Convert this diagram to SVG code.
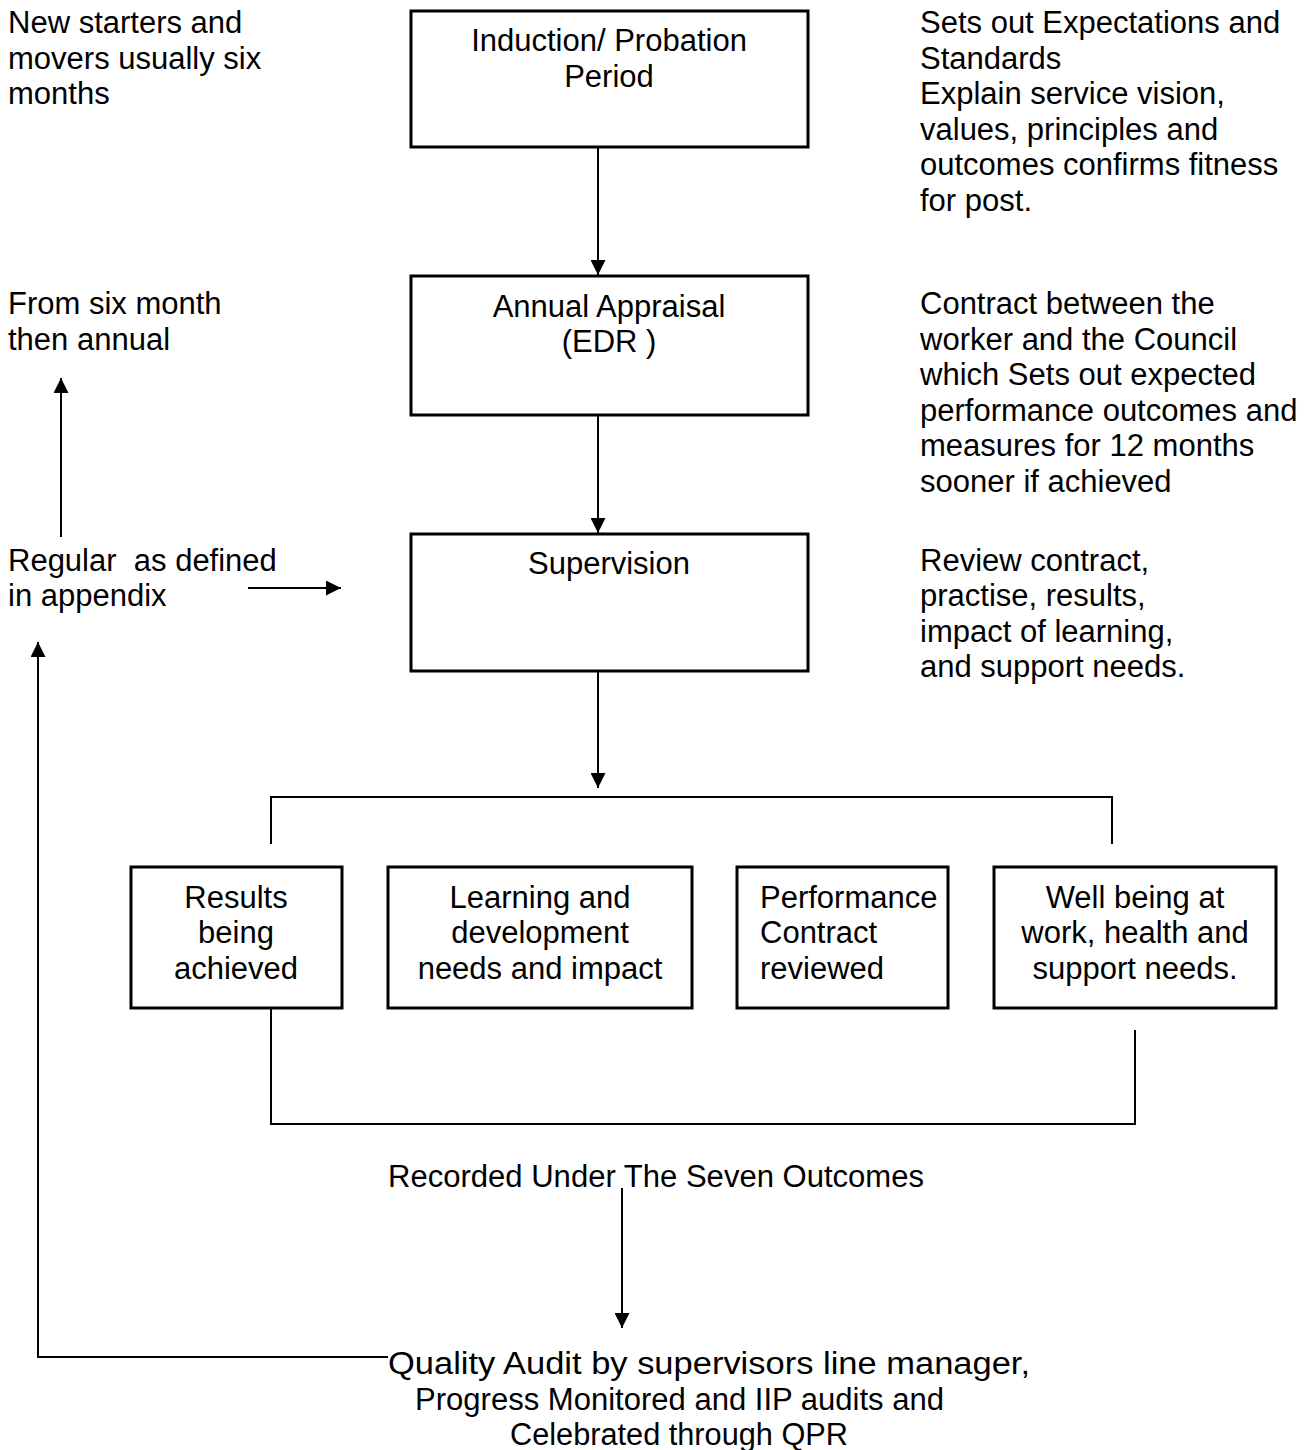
<svg xmlns="http://www.w3.org/2000/svg" width="1314" height="1450" viewBox="0 0 1314 1450">
<style>
text{font-family:"Liberation Sans",Arial,sans-serif;font-size:31px;fill:#000;white-space:pre}
.c{text-anchor:middle}
.box{fill:#fff;stroke:#000;stroke-width:3}
.ln{fill:none;stroke:#000;stroke-width:2}
</style>
<defs>
<marker id="ah" viewBox="0 0 15 15" refX="15" refY="7.5" markerWidth="15" markerHeight="15" markerUnits="userSpaceOnUse" orient="auto">
<path d="M0,0 L15,7.5 L0,15 Z" fill="#000"/>
</marker>
</defs>
<rect width="1314" height="1450" fill="#fff"/>

<g id="note-left-1">
<text x="8" y="33">New starters and</text>
<text x="8" y="69">movers usually six</text>
<text x="8" y="104">months</text>
</g>
<g id="note-right-1">
<text x="920" y="33">Sets out Expectations and</text>
<text x="920" y="69">Standards</text>
<text x="920" y="104">Explain service vision,</text>
<text x="920" y="140">values, principles and</text>
<text x="920" y="175">outcomes confirms fitness</text>
<text x="920" y="211">for post.</text>
</g>
<g id="note-left-2">
<text x="8" y="314">From six month</text>
<text x="8" y="350">then annual</text>
</g>
<g id="note-right-2">
<text x="920" y="314">Contract between the</text>
<text x="920" y="350">worker and the Council</text>
<text x="920" y="385">which Sets out expected</text>
<text x="920" y="421">performance outcomes and</text>
<text x="920" y="456">measures for 12 months</text>
<text x="920" y="492">sooner if achieved</text>
</g>
<g id="note-left-3">
<text x="8" y="571">Regular  as defined</text>
<text x="8" y="606">in appendix</text>
</g>
<g id="note-right-3">
<text x="920" y="571">Review contract,</text>
<text x="920" y="606">practise, results,</text>
<text x="920" y="642">impact of learning,</text>
<text x="920" y="677">and support needs.</text>
</g>

<g id="induction">
<rect class="box" x="411" y="11" width="397" height="136"/>
<text class="c" x="609" y="51">Induction/ Probation</text>
<text class="c" x="609" y="87">Period</text>
</g>
<g id="appraisal">
<rect class="box" x="411" y="276" width="397" height="139"/>
<text class="c" x="609" y="317">Annual Appraisal</text>
<text class="c" x="609" y="352">(EDR )</text>
</g>
<g id="supervision">
<rect class="box" x="411" y="534" width="397" height="137"/>
<text class="c" x="609" y="574">Supervision</text>
</g>

<g id="results">
<rect class="box" x="131" y="867" width="211" height="141"/>
<text class="c" x="236" y="908">Results</text>
<text class="c" x="236" y="943">being</text>
<text class="c" x="236" y="979">achieved</text>
</g>
<g id="learning">
<rect class="box" x="388" y="867" width="304" height="141"/>
<text class="c" x="540" y="908">Learning and</text>
<text class="c" x="540" y="943">development</text>
<text class="c" x="540" y="979">needs and impact</text>
</g>
<g id="performance">
<rect class="box" x="737" y="867" width="211" height="141"/>
<text x="760" y="908">Performance</text>
<text x="760" y="943">Contract</text>
<text x="760" y="979">reviewed</text>
</g>
<g id="wellbeing">
<rect class="box" x="994" y="867" width="282" height="141"/>
<text class="c" x="1135" y="908">Well being at</text>
<text class="c" x="1135" y="943">work, health and</text>
<text class="c" x="1135" y="979">support needs.</text>
</g>

<g id="recorded">
<text x="388" y="1187" textLength="536" lengthAdjust="spacingAndGlyphs">Recorded Under The Seven Outcomes</text>
</g>
<g id="audit">
<text x="388" y="1374" textLength="642" lengthAdjust="spacingAndGlyphs">Quality Audit by supervisors line manager,</text>
<text x="415" y="1410" textLength="529" lengthAdjust="spacingAndGlyphs">Progress Monitored and IIP audits and</text>
<text x="510" y="1445" textLength="338" lengthAdjust="spacingAndGlyphs">Celebrated through QPR</text>
</g>

<g id="connectors">
<line class="ln" x1="598" y1="148" x2="598" y2="275" marker-end="url(#ah)"/>
<line class="ln" x1="598" y1="416" x2="598" y2="533" marker-end="url(#ah)"/>
<line class="ln" x1="598" y1="672" x2="598" y2="788" marker-end="url(#ah)"/>
<polyline class="ln" points="271,844 271,797 1112,797 1112,844"/>
<polyline class="ln" points="271,1009 271,1124 1135,1124 1135,1030"/>
<line class="ln" x1="622" y1="1188" x2="622" y2="1328" marker-end="url(#ah)"/>
<polyline class="ln" points="388,1357 38,1357 38,642" marker-end="url(#ah)"/>
<line class="ln" x1="61" y1="537" x2="61" y2="378" marker-end="url(#ah)"/>
<line class="ln" x1="248" y1="588" x2="341" y2="588" marker-end="url(#ah)"/>
</g>
</svg>
